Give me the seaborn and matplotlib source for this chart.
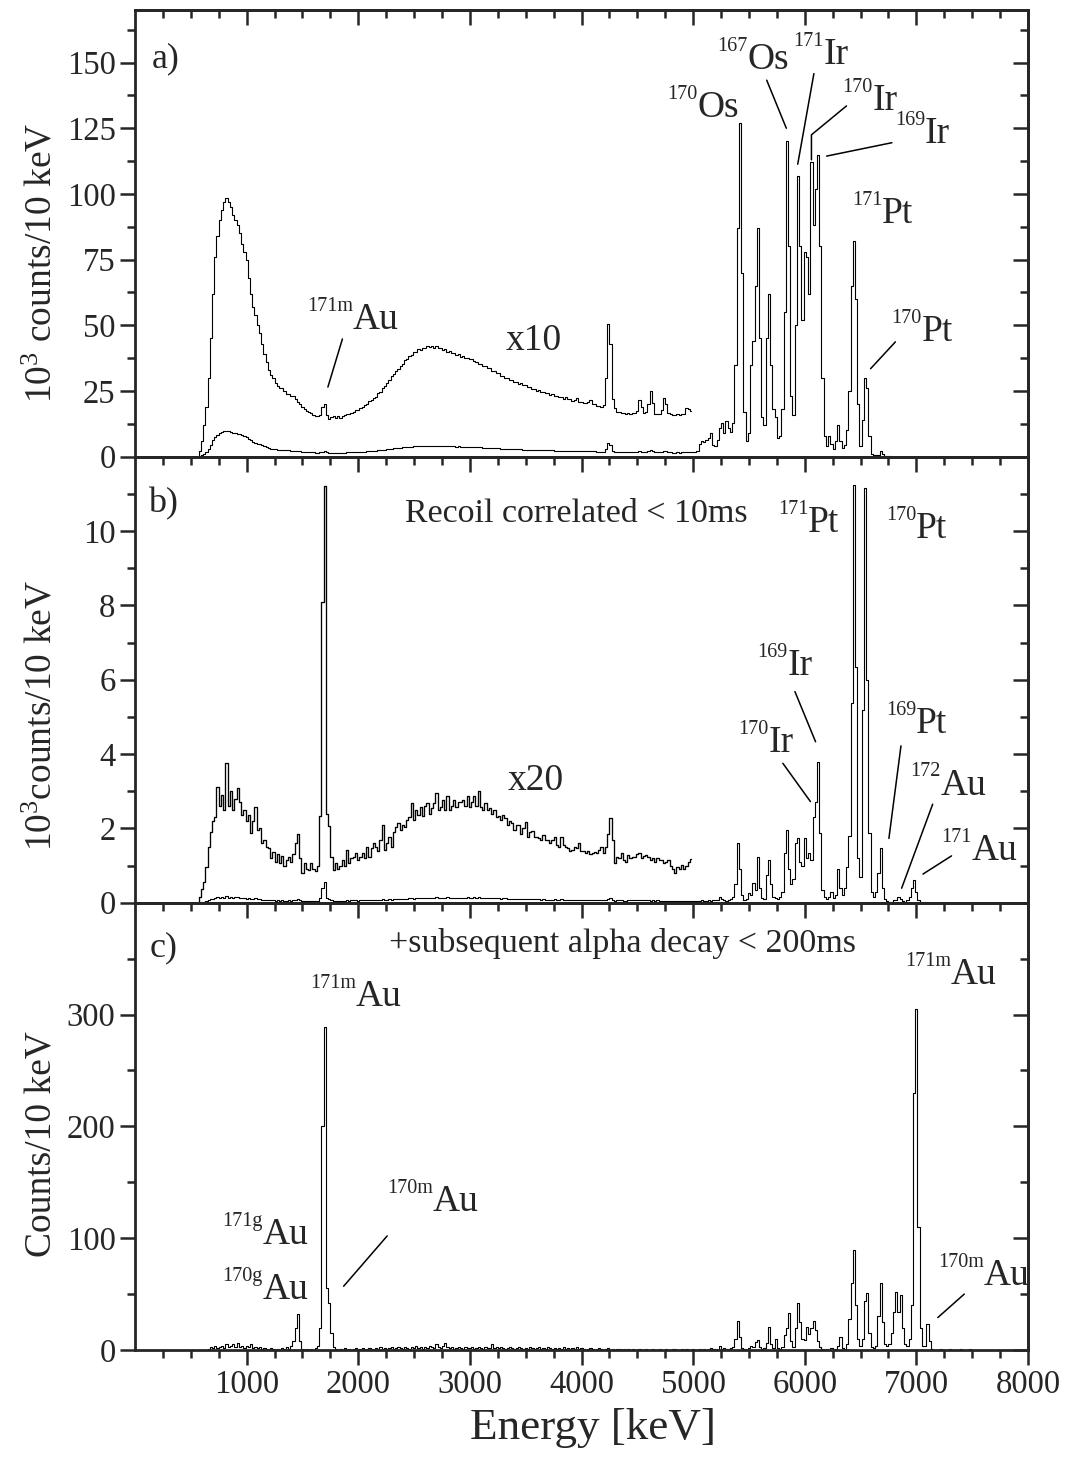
import numpy as np
import pandas as pd
import matplotlib
matplotlib.use("Agg")
import matplotlib.pyplot as plt
import seaborn as sns
from matplotlib.ticker import FixedLocator, NullFormatter

# ---------------------------------------------------------------------------
# Alpha-particle spectra, counts per 10 keV, listed every 20 keV
# ---------------------------------------------------------------------------
BIN_STEP = 20

# a) all events
a_low_start = 560
a_low_counts = [
    0, 200, 600, 1200, 1900, 3000, 4500, 6200, 7600, 8400,
    9000, 9400, 9700, 9850, 9700, 9500, 9200, 9000, 8800, 8500,
    8100, 7800, 7500, 6800, 6200, 5700, 5400, 5000, 4700, 4300,
    3900, 3600, 3300, 3100, 3000, 2800, 2700, 2600, 2600, 2500,
    2400, 2400, 2300, 2300, 2200, 2100, 2000, 1900, 1800, 1750,
    1700, 1650, 1600, 1550, 1550, 1600, 1900, 2000, 1600, 1450,
    1500, 1560, 1480, 1540, 1490, 1560, 1570, 1620, 1610, 1660,
    1690, 1770, 1790, 1860, 1880, 1960, 1990, 2110, 2140, 2250,
    2280, 2420, 2480, 2620, 2680, 2820, 2930, 3070, 3130, 3270,
    3330, 3470, 3530, 3670, 3730, 3840, 3880, 3970, 3980, 4080,
    4070, 4150, 4120, 4200, 4160, 4230, 4150, 4230, 4130, 4120,
    4060, 4090, 3980, 4040, 3930, 3940, 3880, 3900, 3810, 3820,
    3760, 3770, 3710, 3720, 3630, 3620, 3540, 3540, 3460, 3450,
    3360, 3360, 3280, 3270, 3180, 3170, 3080, 3070, 2980, 2980,
    2910, 2920, 2840, 2850, 2780, 2790, 2710, 2720, 2660, 2670,
    2580, 2580, 2510, 2520, 2460, 2470, 2410, 2420, 2360, 2370,
    2310, 2320, 2260, 2270, 2210, 2280, 2180, 2190, 2130, 2170,
    2250, 2090, 2090, 2040, 2040, 2080, 2150, 1990, 1990, 1940,
    1930, 1890, 1950, 3000, 5050, 4300, 2200, 1850, 1700, 1690,
    1660, 1670, 1640, 1660, 1630, 1660, 1650, 1750, 2150, 1900,
    1660, 1690, 2000, 2500, 2050, 1640, 1640, 1640, 1760, 2250,
    2000, 1650, 1630, 1590, 1590, 1610, 1570, 1610, 1640, 1850,
    1800, 1750,
]
a_high_start = 5000
a_high_counts = [
    1800, 1800, 2000, 5000, 6000, 5500, 6500, 7000, 9000, 4500,
    4000, 6500, 11000, 13000, 9000, 13500, 11000, 9500, 13000, 35000,
    87000, 127000, 70000, 17000, 6000, 9000, 35000, 44000, 65000, 87000,
    45000, 15000, 12000, 45000, 62000, 35000, 18000, 15000, 7000, 8000,
    18000, 55000, 120000, 80000, 23000, 16000, 50000, 107000, 80000, 52000,
    78000, 76000, 62000, 112000, 88000, 102000, 115000, 80000, 30000, 8000,
    4000, 8000, 5000, 3000, 6000, 12000, 6000, 3500, 4500, 10000,
    25000, 65000, 82000, 60000, 20000, 4000, 14000, 30000, 26000, 8000,
    1000, 500, 500, 500, 2000, 1000, 300, 200, 100, 0,
    0,
]

# b) recoil-correlated events
b_low_start = 560
b_low_counts = [
    0, 8, 18, 28, 48, 75, 95, 110, 115, 155,
    130, 145, 125, 188, 130, 150, 125, 140, 154, 135,
    118, 125, 110, 118, 94, 110, 129, 98, 100, 80,
    85, 75, 73, 60, 68, 55, 65, 53, 63, 49,
    58, 62, 55, 65, 80, 93, 60, 40, 53, 45,
    44, 53, 45, 42, 49, 116, 405, 560, 120, 103,
    62, 44, 53, 45, 49, 58, 50, 71, 53, 60,
    62, 67, 58, 62, 67, 60, 75, 62, 73, 80,
    75, 70, 85, 105, 71, 80, 89, 75, 95, 102,
    107, 98, 105, 102, 111, 115, 134, 111, 125, 118,
    129, 116, 130, 134, 120, 128, 134, 147, 125, 129,
    138, 125, 143, 125, 130, 138, 129, 135, 136, 138,
    130, 143, 129, 135, 143, 130, 150, 129, 125, 134,
    125, 128, 120, 125, 115, 116, 111, 118, 114, 105,
    110, 107, 98, 105, 105, 93, 100, 109, 89, 95,
    96, 89, 88, 87, 85, 91, 85, 85, 80, 85,
    89, 78, 75, 89, 78, 75, 73, 70, 71, 75,
    73, 80, 69, 70, 67, 69, 65, 67, 68, 67,
    71, 75, 67, 75, 93, 114, 85, 53, 62, 60,
    67, 58, 55, 64, 60, 62, 62, 65, 67, 60,
    63, 64, 62, 58, 60, 55, 60, 58, 58, 53,
    55, 58, 50, 45, 40, 48, 46, 51, 46, 49,
    55, 59,
]
b_high_start = 5000
b_high_counts = [
    50, 45, 55, 40, 60, 45, 55, 70, 50, 60,
    80, 60, 160, 90, 70, 50, 70, 90, 150, 500,
    1600, 900, 200, 80, 100, 250, 200, 520, 350, 1220,
    400, 120, 90, 750, 1150, 500, 150, 120, 100, 150,
    300, 1330, 1960, 900, 500, 650, 1600, 1730, 1100, 1000,
    1730, 1190, 1330, 1150, 2310, 2700, 3790, 1870, 340, 150,
    100, 150, 300, 120, 200, 920, 400, 200, 400, 970,
    1800, 5360, 11240, 6350, 1200, 700, 5180, 11150, 6000, 1870,
    300, 150, 300, 800, 1460, 400, 100, 40, 20, 30,
    60, 80, 160, 100, 40, 30, 60, 150, 400, 610,
    300, 80, 30, 20, 10, 5, 0,
]

# c) recoil + subsequent alpha decay
c_low_start = 600
c_low_counts = [
    0, 0, 0, 1, 3, 2, 4, 2, 3, 4,
    2, 5, 3, 4, 5, 3, 6, 3, 4, 2,
    4, 3, 5, 2, 3, 2, 3, 1, 2, 1,
    0, 2, 1, 0, 1, 0, 2, 1, 3, 1,
    4, 8, 20, 32, 8, 1, 0, 1, 0, 1,
    0, 2, 4, 20, 200, 289, 55, 42, 15, 3,
    1, 0, 1, 0, 2, 0, 1, 0, 1, 2,
    0, 1, 2, 0, 1, 2, 1, 0, 2, 1,
    3, 1, 2, 1, 2, 3, 1, 2, 3, 2,
    1, 3, 2, 1, 3, 2, 4, 2, 3, 1,
    3, 2, 4, 3, 2, 5, 3, 2, 4, 6,
    3, 2, 3, 1, 2, 3, 2, 1, 3, 2,
    2, 3, 1, 2, 3, 2, 1, 3, 2, 2,
    5, 2, 3, 2, 3, 2, 1, 2, 3, 2,
    1, 2, 3, 2, 1, 2, 1, 3, 2, 1,
    2, 3, 1, 2, 1, 3, 2, 1, 2, 1,
    2, 1, 3, 1, 2, 1, 2, 1, 3, 1,
    2, 1, 0, 1, 2, 1, 0, 1, 2, 1,
    0, 1, 2, 0, 1, 0, 1, 1, 0, 1,
    0, 1, 0, 1, 0, 0, 1, 0, 0, 1,
    0, 0, 1, 0, 0, 1, 0, 0, 1, 0,
    0, 1, 1, 0, 0, 1, 0, 1, 0, 0,
    1, 0, 0, 1, 0, 1, 0, 1, 2, 1,
]
c_high_start = 5200
c_high_counts = [
    1, 0, 4, 1, 2, 1, 1, 2, 3, 10,
    26, 12, 2, 1, 0, 2, 4, 3, 7, 9,
    3, 1, 2, 6, 21, 5, 2, 10, 2, 1,
    3, 13, 20, 33, 8, 3, 20, 42, 25, 10,
    9, 21, 14, 20, 26, 18, 8, 3, 1, 0,
    1, 0, 2, 1, 1, 4, 12, 2, 1, 5,
    28, 60, 89, 40, 10, 4, 10, 44, 51, 15,
    3, 2, 4, 30, 60, 25, 5, 4, 5, 15,
    34, 52, 34, 49, 20, 5, 4, 10, 40, 230,
    305, 110, 20, 4, 4, 23, 8, 1, 0, 0,
    0, 1, 0, 0, 0, 1, 0, 0, 0, 0,
    1, 0, 0, 0, 1, 0,
]

A_SCALE = 10   # magnification of the low-energy part in a)
B_SCALE = 20   # magnification of the low-energy part in b)


def energies(start, counts):
    return start + BIN_STEP * np.arange(len(counts))


def spectrum(parts):
    e = np.concatenate([energies(s, c) for s, c in parts])
    n = np.concatenate([np.asarray(c, dtype=float) for _, c in parts])
    return pd.DataFrame({"energy": e, "counts": n})


spec_a = spectrum([(a_low_start, a_low_counts), (a_high_start, a_high_counts)])
spec_b = spectrum([(b_low_start, b_low_counts), (b_high_start, b_high_counts)])
spec_c = spectrum([(c_low_start, c_low_counts), (c_high_start, c_high_counts)])
zoom_a = spectrum([(a_low_start, a_low_counts)])
zoom_b = spectrum([(b_low_start, b_low_counts)])

# ---------------------------------------------------------------------------
sns.set_style("ticks")
plt.rcParams["font.family"] = ["Liberation Serif", "DejaVu Serif"]
plt.rcParams["mathtext.fontset"] = "custom"
plt.rcParams["mathtext.rm"] = "Liberation Serif"
plt.rcParams["mathtext.it"] = "Liberation Serif:italic"
plt.rcParams["mathtext.bf"] = "Liberation Serif:bold"

W_PX, H_PX = 1070, 1461
fig = plt.figure(figsize=(W_PX / 100, H_PX / 100), dpi=100)
left, width = 135 / W_PX, 893 / W_PX
ax_a = fig.add_axes([left, 1 - 456.7 / H_PX, width, 446.7 / H_PX])
ax_b = fig.add_axes([left, 1 - 902.7 / H_PX, width, 446.0 / H_PX])
ax_c = fig.add_axes([left, 1 - 1350 / H_PX, width, 447.3 / H_PX])

LINE_LW = 0.8


def trace(ax, df, factor, lw=LINE_LW):
    sns.lineplot(x=df["energy"], y=df["counts"] * factor, ax=ax, color="black",
                 linewidth=lw, drawstyle="steps-mid", estimator=None,
                 errorbar=None, sort=False)


trace(ax_a, spec_a, 1e-3)
trace(ax_a, zoom_a, A_SCALE * 1e-3)
trace(ax_b, spec_b, 1e-3)
trace(ax_b, zoom_b, B_SCALE * 1e-3, lw=0.95)
trace(ax_c, spec_c, 1.0)

X_MAJOR = list(range(1000, 8001, 1000))
X_MINOR = [e for e in range(250, 8000, 250) if e % 1000]
SPINE_LW = 2.0
TICK_W = 1.8


def frame(ax, ymax, yticks, yminor, ylabel, label_y, show_x):
    ax.set_xlim(0, 8000)
    ax.set_ylim(0, ymax)
    ax.set_xticks(X_MAJOR)
    ax.xaxis.set_minor_locator(FixedLocator(X_MINOR))
    ax.set_yticks(yticks)
    ax.yaxis.set_minor_locator(FixedLocator(yminor))
    ax.tick_params(which="both", direction="out", width=TICK_W,
                   labelsize=23.5, pad=3, top=False, right=False,
                   labelbottom=show_x)
    ax.tick_params(which="major", length=11)
    ax.tick_params(which="minor", length=5.5)
    for sp in ax.spines.values():
        sp.set_visible(True)
        sp.set_linewidth(SPINE_LW)
    # mirrored ticks pointing into the frame on the top and right edges
    top = ax.secondary_xaxis("top")
    top.set_xticks(X_MAJOR)
    top.xaxis.set_minor_locator(FixedLocator(X_MINOR))
    top.xaxis.set_major_formatter(NullFormatter())
    right = ax.secondary_yaxis("right")
    right.set_yticks(yticks)
    right.yaxis.set_minor_locator(FixedLocator(yminor))
    right.yaxis.set_major_formatter(NullFormatter())
    for sec in (top, right):
        sec.tick_params(which="both", direction="in", width=TICK_W)
        sec.tick_params(which="major", length=11)
        sec.tick_params(which="minor", length=5.5)
        for sp in sec.spines.values():
            sp.set_linewidth(SPINE_LW)
    ax.set_xlabel("")
    ax.set_ylabel(ylabel, fontsize=27)
    ax.yaxis.set_label_coords(-0.084, label_y)


frame(ax_a, 170, list(range(0, 151, 25)), [12.5 + 25 * i for i in range(7)],
      r"$10^{3}$ counts/10 keV", 0.433, False)
frame(ax_b, 12, list(range(0, 11, 2)), [1, 3, 5, 7, 9, 11],
      r"$10^{3}$counts/10 keV", 0.42, False)
frame(ax_c, 400, [0, 100, 200, 300], [50, 150, 250, 350],
      "Counts/10 keV", 0.46, True)
ax_c.set_xlabel("Energy [keV]", fontsize=32.5)
ax_c.xaxis.set_label_coords(0.513, -0.13)

# ---------------------------------------------------------------------------
# nuclide labels: small mass number raised in front of the element symbol
SUP_ADVANCE = {"m": 0.778, "g": 0.5}
MAIN_SIZE, SUP_SIZE, SUP_RAISE = 27, 14.5, 13


def nuclide(ax, x, y, mass, elem):
    w = sum(SUP_ADVANCE.get(ch, 0.5) for ch in mass) * SUP_SIZE
    ax.annotate(mass, (x, y), xytext=(0, SUP_RAISE), textcoords="offset points",
                fontsize=SUP_SIZE, ha="left", va="baseline")
    ax.annotate(elem, (x, y), xytext=(w, 0), textcoords="offset points",
                fontsize=MAIN_SIZE, ha="left", va="baseline")


def leader(ax, pts):
    xs, ys = zip(*pts)
    ax.plot(xs, ys, color="black", lw=1.1, clip_on=False)


# a)
ax_a.text(150, 148, "a)", fontsize=26, va="baseline")
ax_a.text(3318, 40.6, "x10", fontsize=27, va="baseline")
nuclide(ax_a, 1543, 48.6, "171m", "Au")
leader(ax_a, [(1858, 44.8), (1728, 26.5)])
nuclide(ax_a, 4771, 129.4, "170", "Os")
nuclide(ax_a, 5218, 147.7, "167", "Os")
leader(ax_a, [(5659, 143.3), (5835, 125)])
nuclide(ax_a, 5897, 149.6, "171", "Ir")
leader(ax_a, [(6082, 145.8), (5937, 111.3)])
nuclide(ax_a, 6338, 131.9, "170", "Ir")
leader(ax_a, [(6374, 133.5), (6060, 122.5), (6060, 113)])
nuclide(ax_a, 6806, 119.3, "169", "Ir")
leader(ax_a, [(6781, 119.5), (6196, 114.4)])
nuclide(ax_a, 6421, 88.9, "171", "Pt")
nuclide(ax_a, 6776, 43.9, "170", "Pt")
leader(ax_a, [(6812, 43.7), (6590, 33.5)])

# b)
ax_b.text(117, 10.5, "b)", fontsize=26, va="baseline")
ax_b.text(2423, 10.25, "Recoil correlated < 10ms", fontsize=24.5, va="baseline")
ax_b.text(3340, 3.03, "x20", fontsize=27, va="baseline")
nuclide(ax_b, 5758, 9.98, "171", "Pt")
nuclide(ax_b, 6729, 9.8, "170", "Pt")
nuclide(ax_b, 5573, 6.13, "169", "Ir")
leader(ax_b, [(5912, 5.68), (6097, 4.33)])
nuclide(ax_b, 5403, 4.06, "170", "Ir")
leader(ax_b, [(5804, 3.75), (6051, 2.72)])
nuclide(ax_b, 6729, 4.57, "169", "Pt")
leader(ax_b, [(6862, 4.22), (6754, 1.73)])
nuclide(ax_b, 6945, 2.91, "172", "Au")
leader(ax_b, [(7146, 2.65), (6868, 0.39)])
nuclide(ax_b, 7223, 1.15, "171", "Au")
leader(ax_b, [(7315, 1.26), (7059, 0.77)])

# c)
ax_c.text(134, 352, "c)", fontsize=26, va="baseline")
ax_c.text(2275, 356, "+subsequent alpha decay < 200ms", fontsize=24.5,
          va="baseline")
nuclide(ax_c, 1568, 308, "171m", "Au")
nuclide(ax_c, 2259, 124, "170m", "Au")
leader(ax_c, [(2259, 102), (1869, 57)])
nuclide(ax_c, 784, 94.5, "171g", "Au")
nuclide(ax_c, 784, 45.5, "170g", "Au")
nuclide(ax_c, 6899, 327, "171m", "Au")
nuclide(ax_c, 7192, 58.3, "170m", "Au")
leader(ax_c, [(7429, 50), (7192, 29)])

for ax, ymax in ((ax_a, 170), (ax_b, 12), (ax_c, 400)):
    ax.set_xlim(0, 8000)
    ax.set_ylim(0, ymax)

fig.savefig("out.png", dpi=100)
